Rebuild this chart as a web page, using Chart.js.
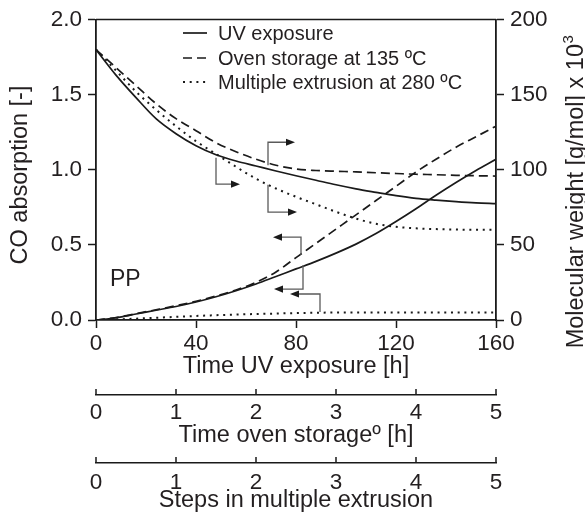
<!DOCTYPE html>
<html><head><meta charset="utf-8">
<script src="https://cdn.jsdelivr.net/npm/chart.js@4.4.0/dist/chart.umd.min.js"></script>
<style>html,body{margin:0;padding:0;background:#fff;}</style>
</head><body>
<canvas id="c" width="585" height="517" style="width:585px;height:517px;display:block"></canvas>
<script>
// ---- data (time of UV exposure in h) ----
const hours = [0,8,16,24,32,40,48,56,64,72,80,88,96,104,112,120,128,136,144,152,160];
// Molecular weight [g/mol] x 10^3 (right axis)
const mwUV       = [180,163,148,134,124,116,110,105.8,102.5,99.2,96,93,90,87.3,85,82.8,81,79.8,78.8,78,77.5];
const mwOven     = [180,168,156,144,134,126,118,112,107,103,100.5,99.5,99,98.6,98,97.5,97,96.7,96.3,96,95.8];
const mwExtr     = [180,166,152,140,129,119,110.5,102,94,87.5,82,77,72,67.5,64,62,61,60.5,60.2,60,60];
// CO absorption [-] (left axis)
const coUV       = [0,0.015,0.04,0.065,0.09,0.12,0.155,0.195,0.24,0.29,0.34,0.39,0.445,0.505,0.575,0.655,0.74,0.83,0.915,0.995,1.07];
const coOven     = [0,0.016,0.042,0.068,0.095,0.125,0.16,0.2,0.25,0.32,0.415,0.51,0.605,0.7,0.795,0.89,0.985,1.07,1.15,1.22,1.29];
const coExtr     = [0,0.004,0.009,0.015,0.021,0.027,0.032,0.036,0.04,0.043,0.046,0.048,0.05,0.05,0.05,0.05,0.05,0.05,0.05,0.05,0.05];
// tick labels
const leftTicks  = [0,0.5,1.0,1.5,2.0];
const rightTicks = [0,50,100,150,200];
const uvTicks    = [0,40,80,120,160];
const stepTicks  = [0,1,2,3,4,5];
const legendLabels = ['UV exposure','Oven storage at 135 ºC','Multiple extrusion at 280 ºC'];
// annotation arrows (x in h, y in CO-absorption units)
const arrowX = [[48,48,57.6],[68.8,68.8,79.6],[68.8,68.8,80.4],[82,82,70.8],[82.8,82.8,71.2],[89.6,89.6,77.6]];
const arrowY = [[1.08,0.904,0.904],[1.03,1.183,1.183],[0.9,0.718,0.718],[0.432,0.551,0.551],[0.365,0.206,0.206],[0.053,0.173,0.173]];

const TXT = '#231f20', LN = '#1a1a1a';
const FONT = "'Liberation Sans', Arial, sans-serif";
const SOLID = [], DASH = [9,5], DOT = [2,4.7];
const pts = arr => hours.map((h,i)=>({x:h,y:arr[i]}));
const ds = (arr, dash, yid) => ({data:pts(arr), borderColor:LN, borderWidth:dash===DOT?2:1.7, borderDash:dash,
  pointRadius:0, cubicInterpolationMode:'monotone', fill:false, yAxisID:yid, xAxisID:'x'});

const tickFont = {family:FONT, size:22.5};
const titleFont = {family:FONT, size:23.5};

const decor = {
  id:'decor',
  afterDraw(chart){
    const ctx = chart.ctx, a = chart.chartArea, s = chart.scales;
    ctx.save();
    // top frame line
    ctx.strokeStyle = LN; ctx.lineWidth = 1.6;
    ctx.beginPath(); ctx.moveTo(a.left, a.top); ctx.lineTo(a.right, a.top); ctx.stroke();
    // upward ticks on extra axes
    ['x2','x3'].forEach(id=>{
      const sc = s[id];
      ctx.lineWidth = 1.5;
      stepTicks.forEach(v=>{
        const px = sc.getPixelForValue(v);
        ctx.beginPath(); ctx.moveTo(px, sc.top); ctx.lineTo(px, sc.top-6); ctx.stroke();
      });
    });
    // legend
    const lx0 = 183, lx1 = 207, tx = 218, rows = [33,58,82], dashes = [SOLID, DASH, DOT];
    ctx.font = `20px ${FONT}`; ctx.textBaseline = 'middle'; ctx.textAlign = 'left';
    legendLabels.forEach((t,i)=>{
      ctx.setLineDash(dashes[i]); ctx.lineWidth = i===2?2:1.7; ctx.strokeStyle = LN;
      ctx.beginPath(); ctx.moveTo(lx0, rows[i]); ctx.lineTo(lx1, rows[i]); ctx.stroke();
      ctx.fillStyle = TXT; ctx.fillText(t, tx, rows[i]+1);
    });
    ctx.setLineDash([]);
    // arrows
    arrowX.forEach((xs,k)=>{
      const p = xs.map((x,j)=>[s.x.getPixelForValue(x), s.y.getPixelForValue(arrowY[k][j])]);
      const [x1,y1] = p[p.length-2], [x2,y2] = p[p.length-1];
      const ang = Math.atan2(y2-y1, x2-x1), L = 9, W = 3.6;
      const bx = x2 - L*Math.cos(ang), by = y2 - L*Math.sin(ang);
      ctx.strokeStyle = '#5a5a5a'; ctx.lineWidth = 1.3;
      ctx.beginPath(); ctx.moveTo(p[0][0], p[0][1]);
      for (let j=1;j<p.length-1;j++) ctx.lineTo(p[j][0], p[j][1]);
      ctx.lineTo(bx, by); ctx.stroke();
      ctx.fillStyle = '#1a1a1a';
      ctx.beginPath(); ctx.moveTo(x2,y2);
      ctx.lineTo(bx + W*Math.sin(ang), by - W*Math.cos(ang));
      ctx.lineTo(bx - W*Math.sin(ang), by + W*Math.cos(ang));
      ctx.closePath(); ctx.fill();
    });
    // PP label
    ctx.fillStyle = TXT; ctx.font = `23px ${FONT}`; ctx.textBaseline = 'middle'; ctx.textAlign='left';
    ctx.fillText('PP', s.x.getPixelForValue(5.6), s.y.getPixelForValue(0.27));
    // left title
    ctx.save(); ctx.translate(27, 175); ctx.rotate(-Math.PI/2);
    ctx.font = `23.5px ${FONT}`; ctx.textAlign='center'; ctx.textBaseline='alphabetic';
    ctx.fillText('CO absorption [-]', 0, 0); ctx.restore();
    // right title with superscript
    ctx.save(); ctx.translate(583, 192); ctx.rotate(-Math.PI/2);
    ctx.font = `23.5px ${FONT}`; ctx.textBaseline='alphabetic'; ctx.textAlign='left';
    const main = 'Molecular weight [g/mol] x 10', sup = '3';
    const w = ctx.measureText(main).width;
    ctx.font = `15px ${FONT}`; const ws = ctx.measureText(sup).width;
    const start = -(w+ws)/2;
    ctx.font = `23.5px ${FONT}`; ctx.fillText(main, start, 0);
    ctx.font = `15px ${FONT}`; ctx.fillText(sup, start + w + 0.5, -10);
    ctx.restore();
    ctx.restore();
  }
};

Chart.defaults.color = TXT;
Chart.defaults.font.family = FONT;

new Chart(document.getElementById('c'), {
  type:'line',
  data:{datasets:[
    ds(mwUV, SOLID, 'y2'), ds(mwOven, DASH, 'y2'), ds(mwExtr, DOT, 'y2'),
    ds(coUV, SOLID, 'y'), ds(coOven, DASH, 'y'), ds(coExtr, DOT, 'y')
  ]},
  options:{
    responsive:false, animation:false, devicePixelRatio:1,
    layout:{padding:{top:19,left:0,right:0,bottom:0}},
    plugins:{legend:{display:false}, tooltip:{enabled:false}},
    scales:{
      x:{type:'linear', position:'bottom', min:0, max:160,
        afterBuildTicks: sc => { sc.ticks = uvTicks.map(v=>({value:v})); },
        ticks:{font:tickFont, color:TXT, padding:2, maxRotation:0, autoSkip:false},
        grid:{drawOnChartArea:false, tickLength:8, tickWidth:1.5, tickColor:LN},
        border:{color:LN, width:1.8},
        title:{display:true, text:'Time UV exposure [h]', font:titleFont, color:TXT, padding:{top:0,bottom:14}},
        afterFit: sc => { sc.height = 75; }},
      x2:{type:'linear', position:'bottom', min:0, max:5,
        afterBuildTicks: sc => { sc.ticks = stepTicks.map(v=>({value:v})); },
        ticks:{font:tickFont, color:TXT, padding:4, maxRotation:0, autoSkip:false},
        grid:{drawOnChartArea:false, drawTicks:false},
        border:{color:LN, width:1.5},
        title:{display:true, text:'Time oven storageº [h]', font:titleFont, color:TXT, padding:{top:0,bottom:13}},
        afterFit: sc => { sc.height = 68; }},
      x3:{type:'linear', position:'bottom', min:0, max:5,
        afterBuildTicks: sc => { sc.ticks = stepTicks.map(v=>({value:v})); },
        ticks:{font:tickFont, color:TXT, padding:6, maxRotation:0, autoSkip:false},
        grid:{drawOnChartArea:false, drawTicks:false},
        border:{color:LN, width:1.5},
        title:{display:true, text:'Steps in multiple extrusion', font:titleFont, color:TXT, padding:{top:0,bottom:2}},
        afterFit: sc => { sc.height = 54; }},
      y:{position:'left', min:0, max:2,
        afterBuildTicks: sc => { sc.ticks = leftTicks.map(v=>({value:v})); },
        ticks:{font:tickFont, color:TXT, padding:6, callback:v=>Number(v).toFixed(1)},
        grid:{drawOnChartArea:false, tickLength:8, tickWidth:1.5, tickColor:LN},
        border:{color:LN, width:1.8},
        afterFit: sc => { sc.width = 96; }},
      y2:{position:'right', min:0, max:200,
        afterBuildTicks: sc => { sc.ticks = rightTicks.map(v=>({value:v})); },
        ticks:{font:tickFont, color:TXT, padding:6},
        grid:{drawOnChartArea:false, tickLength:8, tickWidth:1.5, tickColor:LN},
        border:{color:LN, width:1.8},
        afterFit: sc => { sc.width = 89; }}
    }
  },
  plugins:[decor]
});
</script>
</body></html>
